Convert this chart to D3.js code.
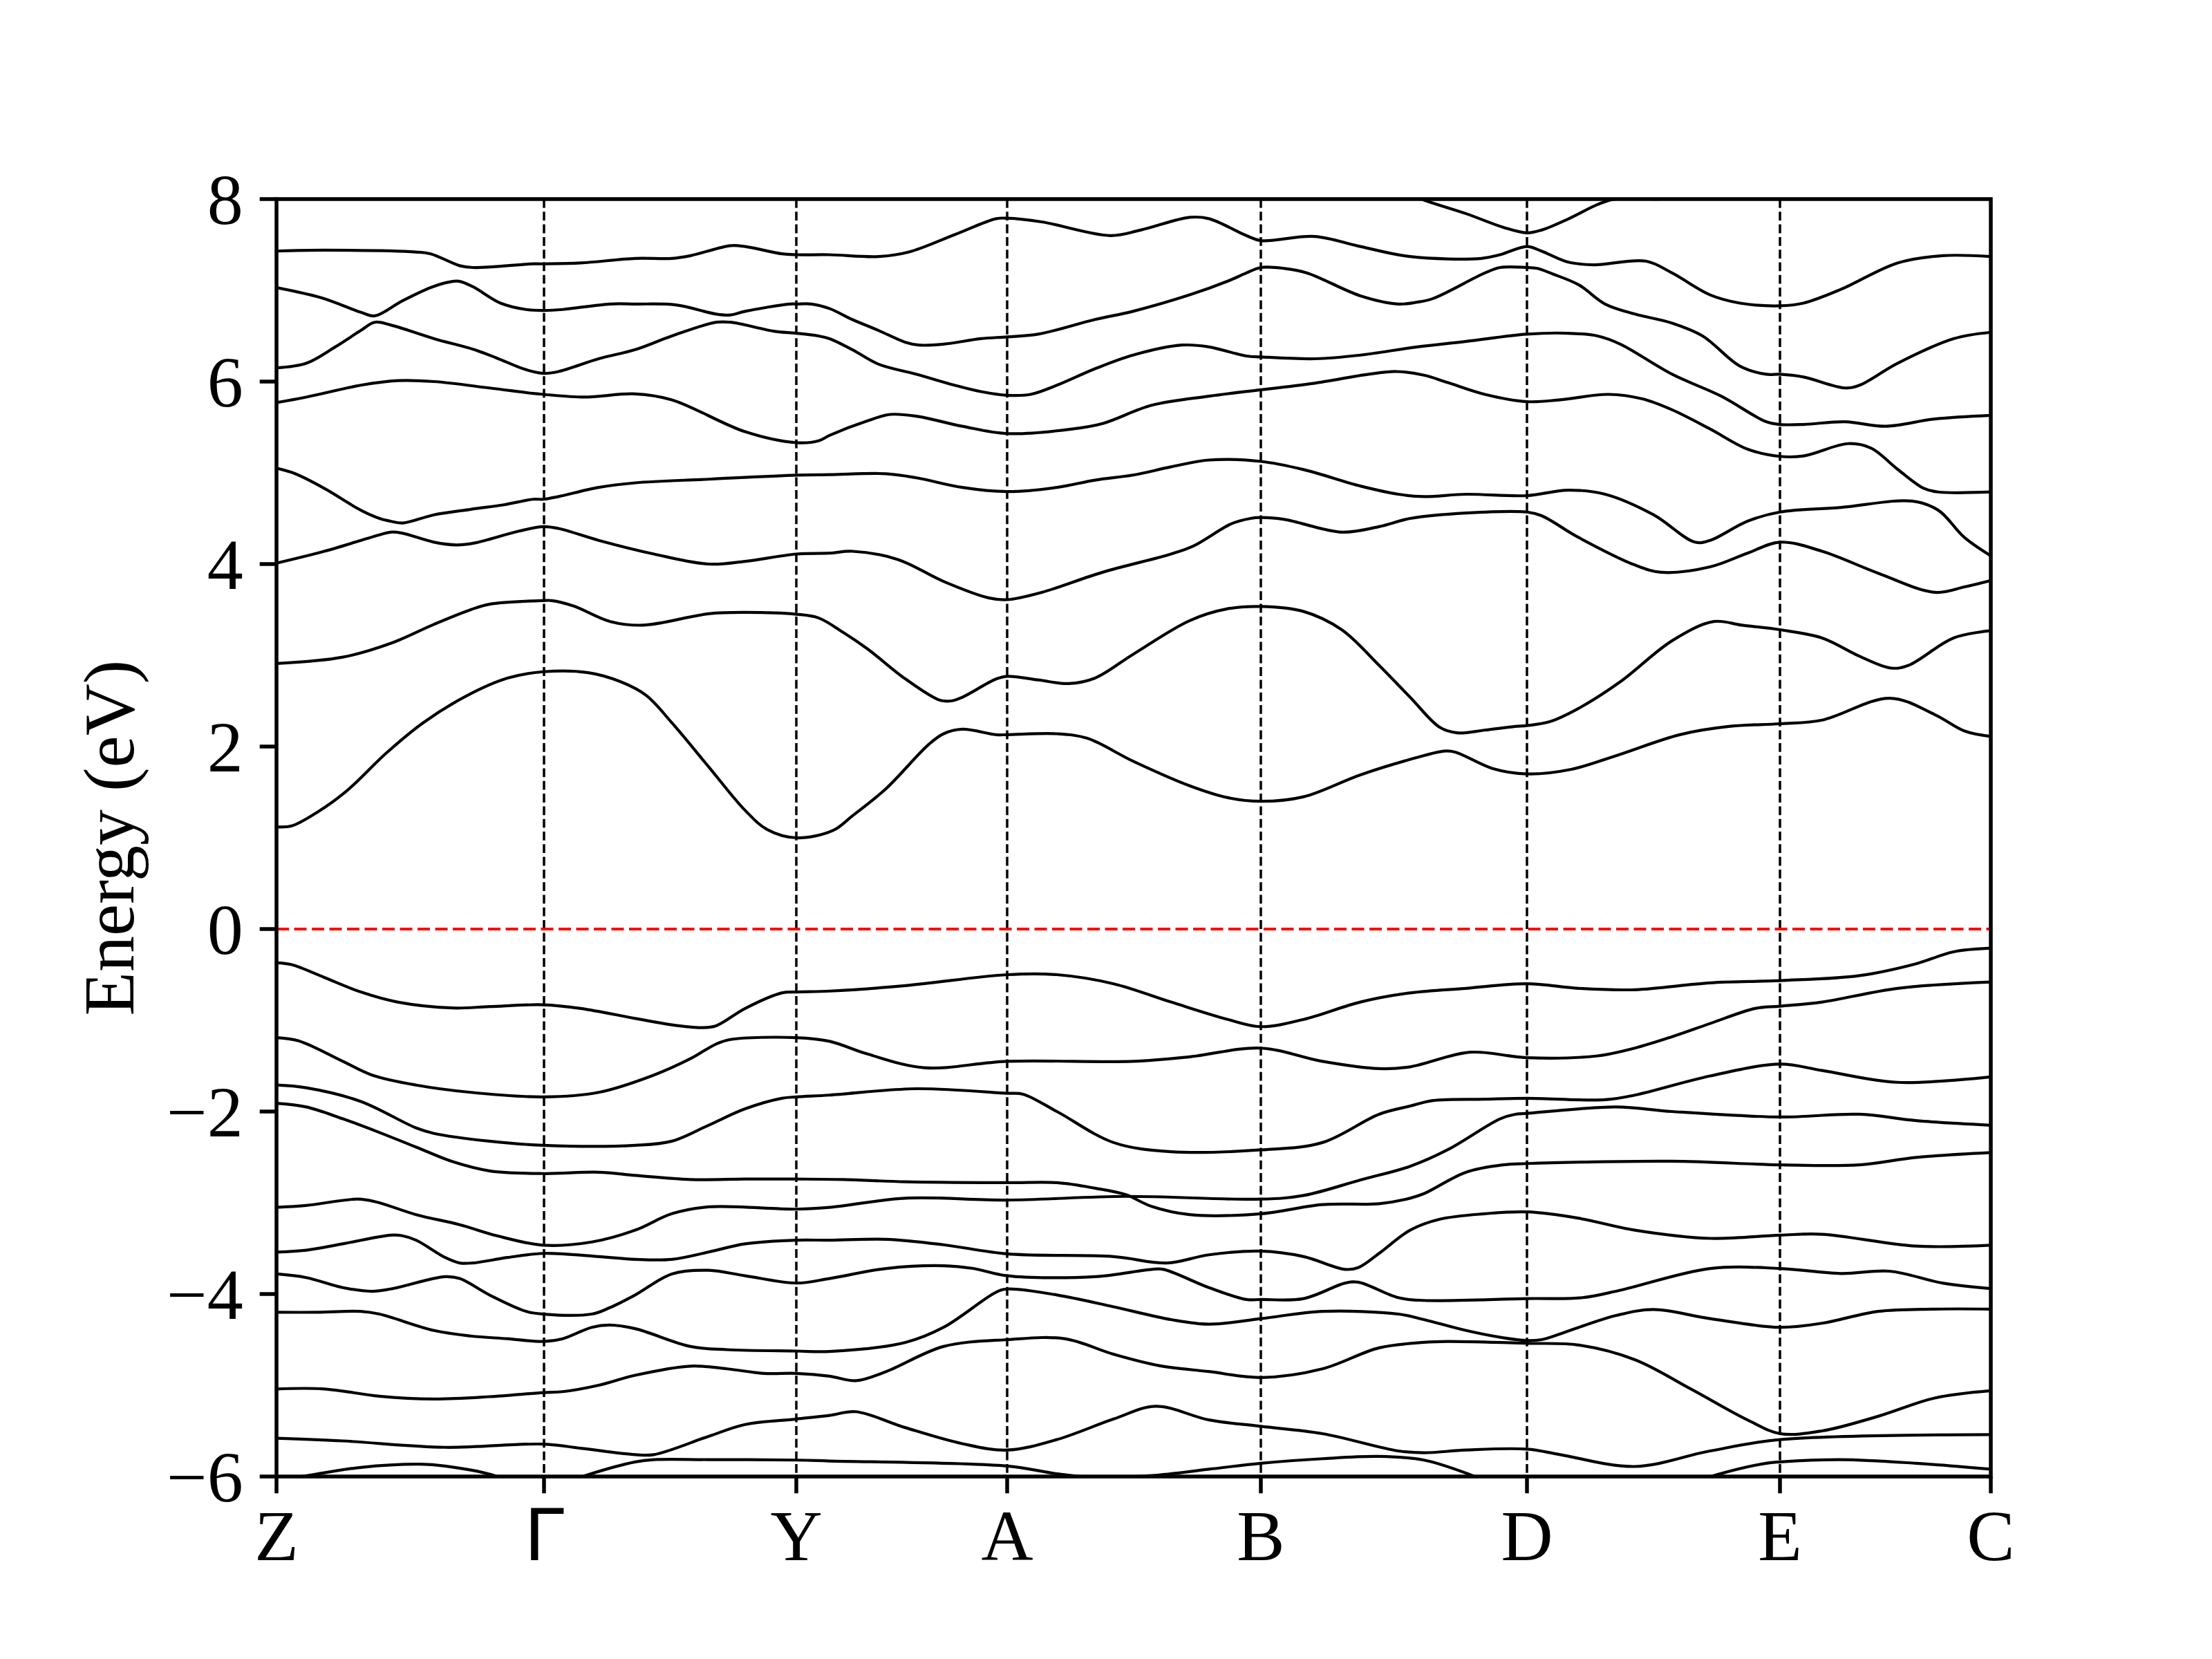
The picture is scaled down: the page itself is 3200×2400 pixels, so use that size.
<!DOCTYPE html>
<meta charset="utf-8">
<style>
body { margin: 0; background: #fff; }
.band { fill: none; stroke: #000; stroke-width: 4.2; stroke-linejoin: round; }
.kline { stroke: #000; stroke-width: 3.5; stroke-dasharray: 12.8,5.5; }
.fermi { stroke: #ff0000; stroke-width: 4.2; stroke-dasharray: 18,7.5; }
.tick-label { font-family: "Liberation Serif", "Times New Roman", serif; font-size: 104px; fill: #000; }
</style>
<script src="https://d3js.org/d3.v7.min.js"></script>
<svg id="chart" width="3200" height="2400"></svg>
<script>

// high-symmetry points along the path
var kLabels = ["Z", "Γ", "Y", "A", "B", "D", "E", "C"];
var kTicks = [0, 0.387, 0.752, 1.057, 1.424, 1.809, 2.175, 2.48];
var eTicks = [8, 6, 4, 2, 0, -2, -4, -6];

// conduction bands [k, E(eV)]
var cb1 = [[0,1.12],[0.022,1.13],[0.059,1.28],[0.101,1.51],[0.159,1.93],[0.212,2.26],[0.276,2.56],[0.334,2.75],[0.386,2.82],[0.451,2.81],[0.498,2.71],[0.535,2.56],[0.572,2.26],[0.625,1.78],[0.678,1.30],[0.71,1.09],[0.752,1.00],[0.805,1.08],[0.833,1.24],[0.882,1.54],[0.943,2.02],[0.965,2.14],[0.992,2.19],[1.041,2.13],[1.057,2.13],[1.129,2.14],[1.173,2.09],[1.239,1.84],[1.321,1.57],[1.376,1.44],[1.424,1.40],[1.486,1.45],[1.568,1.69],[1.65,1.88],[1.689,1.95],[1.705,1.94],[1.759,1.76],[1.809,1.70],[1.873,1.75],[1.938,1.90],[2.03,2.13],[2.101,2.22],[2.175,2.25],[2.236,2.29],[2.334,2.53],[2.399,2.35],[2.442,2.17],[2.48,2.11]];
var cb2 = [[0,2.91],[0.096,2.98],[0.165,3.13],[0.228,3.34],[0.281,3.50],[0.308,3.56],[0.386,3.60],[0.398,3.60],[0.43,3.54],[0.483,3.37],[0.53,3.33],[0.625,3.455],[0.678,3.47],[0.752,3.45],[0.784,3.41],[0.82,3.25],[0.855,3.07],[0.91,2.74],[0.959,2.51],[0.976,2.50],[0.992,2.54],[1.041,2.74],[1.057,2.77],[1.102,2.73],[1.146,2.69],[1.184,2.75],[1.239,3.01],[1.321,3.38],[1.376,3.51],[1.424,3.535],[1.486,3.48],[1.541,3.28],[1.595,2.89],[1.64,2.54],[1.683,2.21],[1.708,2.15],[1.748,2.18],[1.792,2.22],[1.809,2.23],[1.841,2.27],[1.884,2.42],[1.944,2.71],[2.019,3.16],[2.079,3.37],[2.12,3.33],[2.175,3.28],[2.236,3.19],[2.29,2.99],[2.336,2.86],[2.361,2.89],[2.426,3.19],[2.48,3.27]];
var cb3 = [[0,4.01],[0.069,4.14],[0.149,4.32],[0.165,4.35],[0.181,4.34],[0.228,4.24],[0.26,4.21],[0.286,4.23],[0.35,4.36],[0.386,4.41],[0.408,4.39],[0.466,4.26],[0.546,4.11],[0.625,4.00],[0.678,4.03],[0.752,4.11],[0.80,4.12],[0.833,4.14],[0.899,4.05],[0.965,3.81],[1.03,3.63],[1.057,3.61],[1.107,3.69],[1.195,3.91],[1.294,4.11],[1.327,4.20],[1.381,4.44],[1.409,4.50],[1.424,4.51],[1.458,4.49],[1.541,4.35],[1.595,4.41],[1.64,4.50],[1.721,4.56],[1.809,4.57],[1.83,4.53],[1.884,4.29],[1.965,3.99],[2.003,3.91],[2.074,3.97],[2.128,4.12],[2.175,4.24],[2.236,4.14],[2.317,3.90],[2.399,3.69],[2.442,3.75],[2.48,3.82]];
var cb4 = [[0,5.05],[0.027,4.99],[0.069,4.83],[0.122,4.59],[0.149,4.50],[0.165,4.47],[0.183,4.45],[0.228,4.54],[0.281,4.60],[0.329,4.65],[0.371,4.71],[0.386,4.71],[0.408,4.74],[0.466,4.84],[0.519,4.89],[0.625,4.93],[0.752,4.975],[0.80,4.98],[0.882,4.99],[0.926,4.945],[0.992,4.84],[1.057,4.795],[1.129,4.84],[1.184,4.92],[1.239,4.975],[1.294,5.065],[1.349,5.14],[1.424,5.125],[1.486,5.035],[1.568,4.855],[1.623,4.765],[1.66,4.74],[1.721,4.765],[1.809,4.75],[1.868,4.81],[1.922,4.765],[1.992,4.54],[2.052,4.24],[2.074,4.26],[2.128,4.47],[2.175,4.57],[2.263,4.62],[2.366,4.69],[2.404,4.59],[2.442,4.29],[2.48,4.09]];
var cb5 = [[0,5.77],[0.043,5.83],[0.122,5.96],[0.175,6.01],[0.228,6.00],[0.308,5.93],[0.371,5.87],[0.386,5.86],[0.445,5.83],[0.519,5.865],[0.572,5.80],[0.678,5.45],[0.752,5.33],[0.784,5.35],[0.80,5.41],[0.855,5.57],[0.888,5.64],[0.926,5.62],[0.992,5.51],[1.057,5.43],[1.151,5.48],[1.195,5.54],[1.266,5.74],[1.349,5.84],[1.424,5.91],[1.5,5.98],[1.58,6.08],[1.62,6.11],[1.66,6.07],[1.694,5.99],[1.748,5.86],[1.809,5.78],[1.857,5.80],[1.927,5.86],[1.976,5.81],[2.019,5.69],[2.074,5.48],[2.128,5.26],[2.175,5.18],[2.209,5.185],[2.274,5.32],[2.307,5.27],[2.345,5.04],[2.383,4.83],[2.404,4.79],[2.48,4.79]];
var cb6 = [[0,6.15],[0.043,6.20],[0.085,6.38],[0.122,6.56],[0.142,6.65],[0.165,6.62],[0.228,6.47],[0.286,6.35],[0.318,6.26],[0.361,6.13],[0.386,6.09],[0.408,6.11],[0.466,6.25],[0.519,6.35],[0.572,6.50],[0.636,6.65],[0.657,6.65],[0.721,6.55],[0.752,6.53],[0.784,6.50],[0.80,6.47],[0.833,6.35],[0.871,6.19],[0.926,6.08],[0.981,5.96],[1.019,5.89],[1.057,5.85],[1.091,5.86],[1.129,5.96],[1.184,6.14],[1.239,6.29],[1.31,6.40],[1.349,6.38],[1.403,6.28],[1.424,6.27],[1.502,6.25],[1.568,6.29],[1.65,6.38],[1.721,6.44],[1.809,6.52],[1.868,6.53],[1.911,6.50],[1.944,6.41],[2.019,6.08],[2.09,5.84],[2.155,5.56],[2.175,5.53],[2.209,5.53],[2.269,5.56],[2.328,5.51],[2.399,5.59],[2.48,5.63]];
var cb7 = [[0,7.03],[0.064,6.92],[0.122,6.76],[0.142,6.72],[0.181,6.88],[0.223,7.03],[0.249,7.09],[0.264,7.10],[0.284,7.04],[0.324,6.86],[0.361,6.79],[0.386,6.78],[0.414,6.79],[0.482,6.85],[0.519,6.85],[0.578,6.84],[0.636,6.74],[0.657,6.73],[0.678,6.77],[0.742,6.85],[0.752,6.85],[0.774,6.85],[0.80,6.80],[0.833,6.68],[0.871,6.56],[0.91,6.43],[0.929,6.40],[0.965,6.41],[1.019,6.47],[1.057,6.49],[1.102,6.52],[1.184,6.68],[1.239,6.77],[1.321,6.95],[1.376,7.10],[1.403,7.19],[1.424,7.25],[1.458,7.24],[1.491,7.19],[1.568,6.94],[1.623,6.85],[1.65,6.87],[1.673,6.91],[1.748,7.19],[1.77,7.25],[1.809,7.25],[1.824,7.24],[1.846,7.18],[1.884,7.06],[1.922,6.85],[1.965,6.74],[2.019,6.64],[2.063,6.50],[2.117,6.17],[2.155,6.08],[2.175,6.08],[2.209,6.05],[2.269,5.93],[2.29,5.96],[2.345,6.20],[2.426,6.47],[2.48,6.54]];
var cb8 = [[0,7.43],[0.069,7.44],[0.202,7.42],[0.223,7.40],[0.265,7.27],[0.284,7.25],[0.371,7.29],[0.386,7.29],[0.44,7.30],[0.519,7.35],[0.572,7.35],[0.599,7.38],[0.657,7.49],[0.678,7.48],[0.731,7.40],[0.752,7.39],[0.80,7.39],[0.871,7.37],[0.915,7.42],[0.981,7.61],[1.041,7.785],[1.057,7.79],[1.107,7.75],[1.206,7.60],[1.25,7.66],[1.321,7.80],[1.349,7.785],[1.403,7.60],[1.424,7.545],[1.502,7.59],[1.568,7.48],[1.64,7.37],[1.743,7.35],[1.77,7.39],[1.809,7.48],[1.83,7.43],[1.868,7.31],[1.906,7.28],[1.981,7.32],[2.019,7.19],[2.074,6.95],[2.117,6.86],[2.175,6.83],[2.209,6.86],[2.263,7.01],[2.345,7.30],[2.41,7.38],[2.48,7.37]];
var cb9 = [[1.62,8.12],[1.656,8.0],[1.721,7.84],[1.775,7.69],[1.809,7.63],[1.83,7.66],[1.868,7.78],[1.911,7.94],[1.933,7.995],[1.975,8.005],[2.0,8.0],[2.04,8.05],[2.08,8.15]];

// valence bands [k, E(eV)]
var vb1 = [[0,-0.37],[0.022,-0.39],[0.069,-0.53],[0.122,-0.69],[0.175,-0.80],[0.255,-0.865],[0.308,-0.85],[0.386,-0.83],[0.44,-0.87],[0.519,-0.98],[0.572,-1.05],[0.615,-1.08],[0.636,-1.06],[0.678,-0.87],[0.731,-0.70],[0.752,-0.69],[0.80,-0.68],[0.91,-0.62],[1.057,-0.50],[1.129,-0.50],[1.211,-0.60],[1.294,-0.80],[1.376,-0.99],[1.424,-1.07],[1.486,-0.99],[1.568,-0.80],[1.64,-0.70],[1.721,-0.65],[1.809,-0.60],[1.884,-0.65],[1.965,-0.665],[2.074,-0.59],[2.175,-0.565],[2.29,-0.51],[2.372,-0.38],[2.426,-0.25],[2.48,-0.21]];
var vb2 = [[0,-1.19],[0.032,-1.225],[0.096,-1.45],[0.138,-1.60],[0.202,-1.71],[0.281,-1.79],[0.386,-1.84],[0.466,-1.79],[0.546,-1.60],[0.599,-1.42],[0.636,-1.26],[0.657,-1.21],[0.752,-1.19],[0.80,-1.23],[0.855,-1.37],[0.937,-1.52],[1.057,-1.45],[1.239,-1.45],[1.321,-1.40],[1.424,-1.305],[1.513,-1.45],[1.595,-1.53],[1.64,-1.51],[1.727,-1.35],[1.809,-1.41],[1.911,-1.39],[1.965,-1.305],[2.019,-1.18],[2.074,-1.035],[2.139,-0.87],[2.175,-0.845],[2.236,-0.80],[2.345,-0.65],[2.48,-0.58]];
var vb3 = [[0,-1.71],[0.043,-1.74],[0.122,-1.89],[0.202,-2.18],[0.228,-2.24],[0.308,-2.325],[0.386,-2.37],[0.519,-2.37],[0.572,-2.325],[0.625,-2.15],[0.678,-1.97],[0.731,-1.855],[0.752,-1.84],[0.80,-1.82],[0.926,-1.75],[1.057,-1.80],[1.08,-1.81],[1.129,-2.00],[1.211,-2.34],[1.294,-2.44],[1.424,-2.42],[1.513,-2.34],[1.595,-2.03],[1.64,-1.94],[1.673,-1.88],[1.748,-1.865],[1.809,-1.855],[1.922,-1.87],[1.965,-1.82],[2.074,-1.61],[2.175,-1.48],[2.236,-1.55],[2.345,-1.68],[2.48,-1.62]];
var vb4 = [[0,-1.91],[0.043,-1.95],[0.096,-2.08],[0.149,-2.23],[0.202,-2.39],[0.255,-2.55],[0.308,-2.65],[0.386,-2.68],[0.466,-2.665],[0.519,-2.70],[0.599,-2.745],[0.678,-2.74],[0.752,-2.74],[0.82,-2.745],[0.91,-2.77],[1.057,-2.78],[1.129,-2.78],[1.184,-2.84],[1.228,-2.91],[1.266,-3.04],[1.321,-3.13],[1.424,-3.12],[1.513,-3.02],[1.595,-3.01],[1.64,-2.95],[1.66,-2.90],[1.721,-2.665],[1.775,-2.584],[1.809,-2.57],[2.019,-2.545],[2.175,-2.584],[2.29,-2.584],[2.372,-2.503],[2.48,-2.45]];
var vb5 = [[0,-3.05],[0.043,-3.03],[0.117,-2.96],[0.144,-2.99],[0.202,-3.13],[0.265,-3.24],[0.318,-3.36],[0.386,-3.465],[0.456,-3.43],[0.519,-3.30],[0.572,-3.12],[0.625,-3.045],[0.752,-3.07],[0.80,-3.05],[0.91,-2.95],[1.057,-2.97],[1.228,-2.93],[1.424,-2.96],[1.486,-2.92],[1.568,-2.75],[1.64,-2.60],[1.694,-2.42],[1.77,-2.08],[1.792,-2.03],[1.809,-2.02],[1.938,-1.95],[2.019,-2.00],[2.175,-2.06],[2.29,-2.03],[2.372,-2.10],[2.48,-2.15]];
var vb6 = [[0,-3.54],[0.043,-3.52],[0.096,-3.45],[0.165,-3.355],[0.181,-3.36],[0.202,-3.41],[0.244,-3.60],[0.265,-3.66],[0.284,-3.66],[0.334,-3.60],[0.386,-3.555],[0.466,-3.59],[0.519,-3.62],[0.572,-3.62],[0.625,-3.54],[0.678,-3.45],[0.752,-3.41],[0.80,-3.41],[0.882,-3.40],[0.965,-3.46],[1.057,-3.56],[1.211,-3.59],[1.288,-3.66],[1.349,-3.57],[1.424,-3.53],[1.486,-3.59],[1.546,-3.73],[1.565,-3.71],[1.595,-3.555],[1.64,-3.30],[1.683,-3.18],[1.748,-3.12],[1.809,-3.10],[1.884,-3.17],[1.965,-3.30],[2.074,-3.39],[2.175,-3.355],[2.236,-3.345],[2.372,-3.475],[2.48,-3.465]];
var vb7 = [[0,-3.78],[0.043,-3.82],[0.096,-3.93],[0.138,-3.97],[0.165,-3.945],[0.244,-3.81],[0.265,-3.83],[0.308,-4.01],[0.361,-4.19],[0.386,-4.22],[0.456,-4.22],[0.482,-4.15],[0.519,-4.01],[0.572,-3.78],[0.625,-3.74],[0.678,-3.80],[0.752,-3.88],[0.80,-3.83],[0.882,-3.72],[0.965,-3.69],[1.008,-3.72],[1.057,-3.80],[1.184,-3.81],[1.266,-3.73],[1.283,-3.73],[1.349,-3.93],[1.403,-4.06],[1.424,-4.06],[1.486,-4.05],[1.546,-3.88],[1.565,-3.87],[1.623,-4.04],[1.66,-4.07],[1.809,-4.05],[1.889,-4.04],[1.943,-3.96],[2.074,-3.72],[2.175,-3.72],[2.263,-3.775],[2.334,-3.75],[2.41,-3.88],[2.48,-3.94]];
var vb8 = [[0,-4.20],[0.059,-4.20],[0.122,-4.19],[0.149,-4.22],[0.228,-4.40],[0.281,-4.46],[0.334,-4.49],[0.386,-4.52],[0.414,-4.49],[0.456,-4.365],[0.482,-4.34],[0.519,-4.38],[0.599,-4.575],[0.652,-4.61],[0.752,-4.625],[0.80,-4.63],[0.91,-4.53],[0.965,-4.365],[1.041,-3.98],[1.057,-3.945],[1.129,-4.01],[1.211,-4.14],[1.294,-4.28],[1.349,-4.33],[1.424,-4.27],[1.513,-4.19],[1.623,-4.22],[1.66,-4.28],[1.721,-4.40],[1.775,-4.48],[1.809,-4.51],[1.83,-4.50],[1.884,-4.365],[1.938,-4.235],[1.992,-4.17],[2.074,-4.27],[2.175,-4.365],[2.236,-4.32],[2.317,-4.19],[2.399,-4.165],[2.48,-4.165]];
var vb9 = [[0,-5.04],[0.069,-5.04],[0.149,-5.12],[0.228,-5.15],[0.308,-5.125],[0.386,-5.08],[0.414,-5.07],[0.466,-5.00],[0.519,-4.89],[0.599,-4.79],[0.652,-4.82],[0.705,-4.87],[0.752,-4.87],[0.80,-4.90],[0.838,-4.95],[0.882,-4.85],[0.965,-4.575],[1.057,-4.50],[1.14,-4.49],[1.211,-4.66],[1.277,-4.785],[1.349,-4.85],[1.424,-4.915],[1.513,-4.82],[1.595,-4.59],[1.66,-4.53],[1.694,-4.52],[1.809,-4.54],[1.884,-4.56],[1.965,-4.72],[2.047,-5.045],[2.128,-5.38],[2.175,-5.53],[2.236,-5.50],[2.317,-5.34],[2.399,-5.14],[2.48,-5.06]];
var vb10 = [[0,-5.58],[0.096,-5.61],[0.244,-5.68],[0.386,-5.645],[0.44,-5.69],[0.519,-5.76],[0.546,-5.76],[0.625,-5.56],[0.678,-5.43],[0.752,-5.37],[0.80,-5.33],[0.838,-5.29],[0.91,-5.465],[0.992,-5.64],[1.057,-5.71],[1.129,-5.595],[1.211,-5.37],[1.272,-5.23],[1.349,-5.38],[1.424,-5.45],[1.513,-5.53],[1.623,-5.72],[1.66,-5.74],[1.721,-5.71],[1.809,-5.70],[1.857,-5.76],[1.965,-5.89],[2.074,-5.72],[2.175,-5.595],[2.48,-5.54]];
var vb11 = [[0.40,-6.12],[0.451,-5.98],[0.519,-5.84],[0.546,-5.815],[0.625,-5.815],[0.752,-5.82],[0.80,-5.83],[1.057,-5.885],[1.129,-5.97],[1.184,-6.01],[1.266,-5.99],[1.349,-5.92],[1.424,-5.855],[1.513,-5.805],[1.595,-5.78],[1.66,-5.82],[1.727,-5.98],[1.77,-6.12]];
var vb12 = [[0,-6.05],[0.053,-5.98],[0.122,-5.90],[0.208,-5.865],[0.244,-5.885],[0.311,-5.98],[0.35,-6.1]];
var vb13 = [[2.03,-6.12],[2.084,-5.98],[2.155,-5.855],[2.175,-5.84],[2.263,-5.815],[2.372,-5.855],[2.48,-5.92]];

var bands = [cb1, cb2, cb3, cb4, cb5, cb6, cb7, cb8, cb9,
             vb1, vb2, vb3, vb4, vb5, vb6, vb7, vb8, vb9, vb10, vb11, vb12, vb13];

var svg = d3.select("#chart");
var plotLeft = 400, plotRight = 2880, plotTop = 288, plotBottom = 2136;

var x = d3.scaleLinear().domain([0, 2.48]).range([plotLeft, plotRight]);
var y = d3.scaleLinear().domain([-6, 8]).range([plotBottom, plotTop]);

svg.append("rect").attr("width", 3200).attr("height", 2400).attr("fill", "#fff");

svg.append("defs").append("clipPath").attr("id", "plot-clip")
  .append("rect")
    .attr("x", plotLeft).attr("y", plotTop)
    .attr("width", plotRight - plotLeft).attr("height", plotBottom - plotTop);

var plot = svg.append("g").attr("clip-path", "url(#plot-clip)");

// dashed lines at high-symmetry points
plot.selectAll(".kline")
  .data(kTicks.slice(1, -1))
  .enter().append("line")
    .attr("class", "kline")
    .attr("x1", function(d) { return x(d); })
    .attr("x2", function(d) { return x(d); })
    .attr("y1", plotTop).attr("y2", plotBottom);

// Fermi level
plot.append("line")
    .attr("class", "fermi")
    .attr("x1", plotLeft).attr("x2", plotRight)
    .attr("y1", y(0)).attr("y2", y(0));

var line = d3.line()
    .x(function(d) { return x(d[0]); })
    .y(function(d) { return y(d[1]); })
    .curve(d3.curveCatmullRom.alpha(0.5));

plot.selectAll(".band")
  .data(bands)
  .enter().append("path")
    .attr("class", "band")
    .attr("d", line);

// axes frame
var tickLen = 24.3, axisW = 5.5;
svg.append("rect")
    .attr("x", plotLeft).attr("y", plotTop)
    .attr("width", plotRight - plotLeft).attr("height", plotBottom - plotTop)
    .attr("fill", "none").attr("stroke", "#000").attr("stroke-width", axisW);

// y ticks
svg.selectAll(".ytick")
  .data(eTicks)
  .enter().append("line")
    .attr("x1", plotLeft - tickLen).attr("x2", plotLeft)
    .attr("y1", function(d) { return y(d); })
    .attr("y2", function(d) { return y(d); })
    .attr("stroke", "#000").attr("stroke-width", axisW);

svg.selectAll(".ylab")
  .data(eTicks)
  .enter().append("text")
    .attr("class", "tick-label")
    .attr("x", plotLeft - tickLen - 24)
    .attr("y", function(d) { return y(d) + 35.5; })
    .attr("text-anchor", "end")
    .text(function(d) { return d < 0 ? "\u2212" + Math.abs(d) : d; });

// x ticks
svg.selectAll(".xtick")
  .data(kTicks)
  .enter().append("line")
    .attr("x1", function(d) { return x(d); })
    .attr("x2", function(d) { return x(d); })
    .attr("y1", plotBottom).attr("y2", plotBottom + tickLen)
    .attr("stroke", "#000").attr("stroke-width", axisW);

svg.selectAll(".xlab")
  .data(kTicks)
  .enter().append("text")
    .attr("class", "tick-label")
    .attr("x", function(d) { return x(d); })
    .attr("y", 2257)
    .attr("text-anchor", "middle")
    .style("font-family", function(d, i) { return kLabels[i] === "Γ" ? "'DejaVu Sans', sans-serif" : null; })
    .text(function(d, i) { return kLabels[i]; });

// y axis title
svg.append("text")
    .attr("class", "tick-label")
    .attr("transform", "translate(193," + ((plotTop + plotBottom) / 2) + ") rotate(-90)")
    .attr("text-anchor", "middle")
    .text("Energy (eV)");

</script>
